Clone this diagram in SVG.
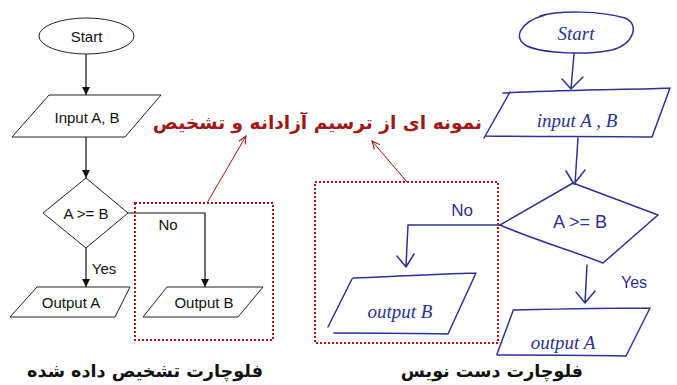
<svg xmlns="http://www.w3.org/2000/svg" width="677" height="385" viewBox="0 0 677 385">
<defs>
<style>
.k{fill:#fff;stroke:#222;stroke-width:1}
.kt{font-family:"Liberation Sans",Arial,sans-serif;font-size:15px;fill:#111;text-anchor:middle;dominant-baseline:central}
.kl{stroke:#111;stroke-width:1.2;fill:none}
.h{fill:none;stroke:#2e3192;stroke-width:1.5;stroke-linecap:round;stroke-linejoin:round}
.ht{font-family:"Liberation Serif",serif;font-style:italic;font-size:19px;fill:#2e3192;text-anchor:middle;dominant-baseline:central}
.box{fill:none;stroke:#a01818;stroke-width:2;stroke-dasharray:2 2}
.rl{stroke:#a01818;stroke-width:1;fill:none}
.fa{font-family:"DejaVu Sans",sans-serif;font-weight:bold;direction:rtl}
</style>
<marker id="ah" viewBox="0 0 10 10" refX="10" refY="5" markerWidth="8" markerHeight="8" orient="auto-start-reverse" markerUnits="userSpaceOnUse"><path d="M0,0L10,5L0,10z" fill="#111"/></marker>
<marker id="ra" viewBox="0 0 10 10" refX="9" refY="5" markerWidth="9" markerHeight="9" orient="auto" markerUnits="userSpaceOnUse"><path d="M0,1L9,5L0,9" fill="none" stroke="#a01818" stroke-width="1.2"/></marker>
</defs>
<rect width="677" height="385" fill="#fff"/>

<g id="connectors">
<line class="kl" x1="86" y1="54" x2="86" y2="95" marker-end="url(#ah)"/>
<line class="kl" x1="86" y1="137" x2="86" y2="178" marker-end="url(#ah)"/>
<line class="kl" x1="86" y1="248" x2="86" y2="287" marker-end="url(#ah)"/>
<polyline class="kl" points="128,213 205,213 205,287" marker-end="url(#ah)"/>
<text class="kt" x="104" y="268">Yes</text>
<text class="kt" x="168" y="224">No</text>
<line class="rl" x1="207" y1="203" x2="246" y2="136" marker-end="url(#ra)"/>
<line class="rl" x1="407" y1="182" x2="372" y2="141" marker-end="url(#ra)"/>
<path class="h" d="M574,54 L571,89 M562,79 L571,89 L583,77"/>
<path class="h" d="M578,138 L575,184 M566,171 L574,184 L585,170"/>
<path class="h" d="M500,225 L408,225 L406,266 M397,256 L406,267 L414,254"/>
<path class="h" d="M587,265 L585,303 M576,292 L585,303 M585,303 L595,291"/>
<text class="ht" x="462" y="210" style="font-style:normal;font-family:'Liberation Sans',sans-serif;font-size:17px">No</text>
<text class="ht" x="634" y="282" style="font-style:normal;font-family:'Liberation Sans',sans-serif;font-size:16px">Yes</text>
</g>

<g id="start-printed">
<ellipse class="k" cx="86.5" cy="36" rx="47.5" ry="18"/>
<text class="kt" x="86.5" y="36">Start</text>
</g>
<g id="input-printed">
<polygon class="k" points="49,95 161,95 125,137 12,137"/>
<text class="kt" x="87" y="117">Input A, B</text>
</g>
<g id="decision-printed">
<polygon class="k" points="86,178 128,213 86,248 43,213"/>
<text class="kt" x="86" y="213">A &gt;= B</text>
</g>
<g id="outputA-printed">
<polygon class="k" points="37,287 130,287 115,317 10,317"/>
<text class="kt" x="71" y="302">Output A</text>
</g>
<g id="outputB-printed">
<polygon class="k" points="167,287 263,287 238,317 143,317"/>
<text class="kt" x="204" y="302">Output B</text>
</g>
<g id="box-left"><rect class="box" x="135" y="203" width="138" height="137"/></g>
<g id="box-right"><rect class="box" x="315" y="182" width="183" height="161"/></g>

<g id="start-hand">
<path class="h" d="M540,16 C560,10 600,11 625,18 C640,24 634,44 612,50 C590,55 545,54 527,46 C512,38 520,22 545,15"/>
<text class="ht" x="576" y="33">Start</text>
</g>
<g id="input-hand">
<path class="h" d="M503,93 C560,90 620,90 670,88 M670,88 L652,137 M652,137 C600,136 540,137 486,136 M484,138 L510,92"/>
<text class="ht" x="577" y="120">input A , B</text>
</g>
<g id="decision-hand">
<path class="h" d="M573,183 L658,215 M658,215 L603,263 M603,263 C570,250 535,240 500,225 L573,183"/>
<text class="ht" x="580" y="222" style="font-style:normal;font-family:'Liberation Sans',sans-serif;font-size:18px">A &gt;= B</text>
</g>
<g id="outputB-hand">
<path class="h" d="M353,278 C400,276 440,274 476,273 M476,273 L448,334 M448,334 C410,333 370,333 334,333 M352,279 L328,327"/>
<text class="ht" x="400" y="311">output B</text>
</g>
<g id="outputA-hand">
<path class="h" d="M513,310 C560,309 610,308 650,308 M650,308 L626,356 M626,356 C580,355 540,355 497,355 M513,311 L497,354"/>
<text class="ht" x="563" y="342">output A</text>
</g>

<g id="titles">
<text class="fa" x="482" y="129" text-anchor="start" font-size="18.6" fill="#a01818">نمونه ای از ترسیم آزادانه و تشخیص</text>
<text class="fa" x="263" y="377" text-anchor="start" font-size="17.6" fill="#111">فلوچارت تشخیص داده شده</text>
<text class="fa" x="583" y="377" text-anchor="start" font-size="17.5" fill="#111">فلوچارت دست نویس</text>
</g>
</svg>
